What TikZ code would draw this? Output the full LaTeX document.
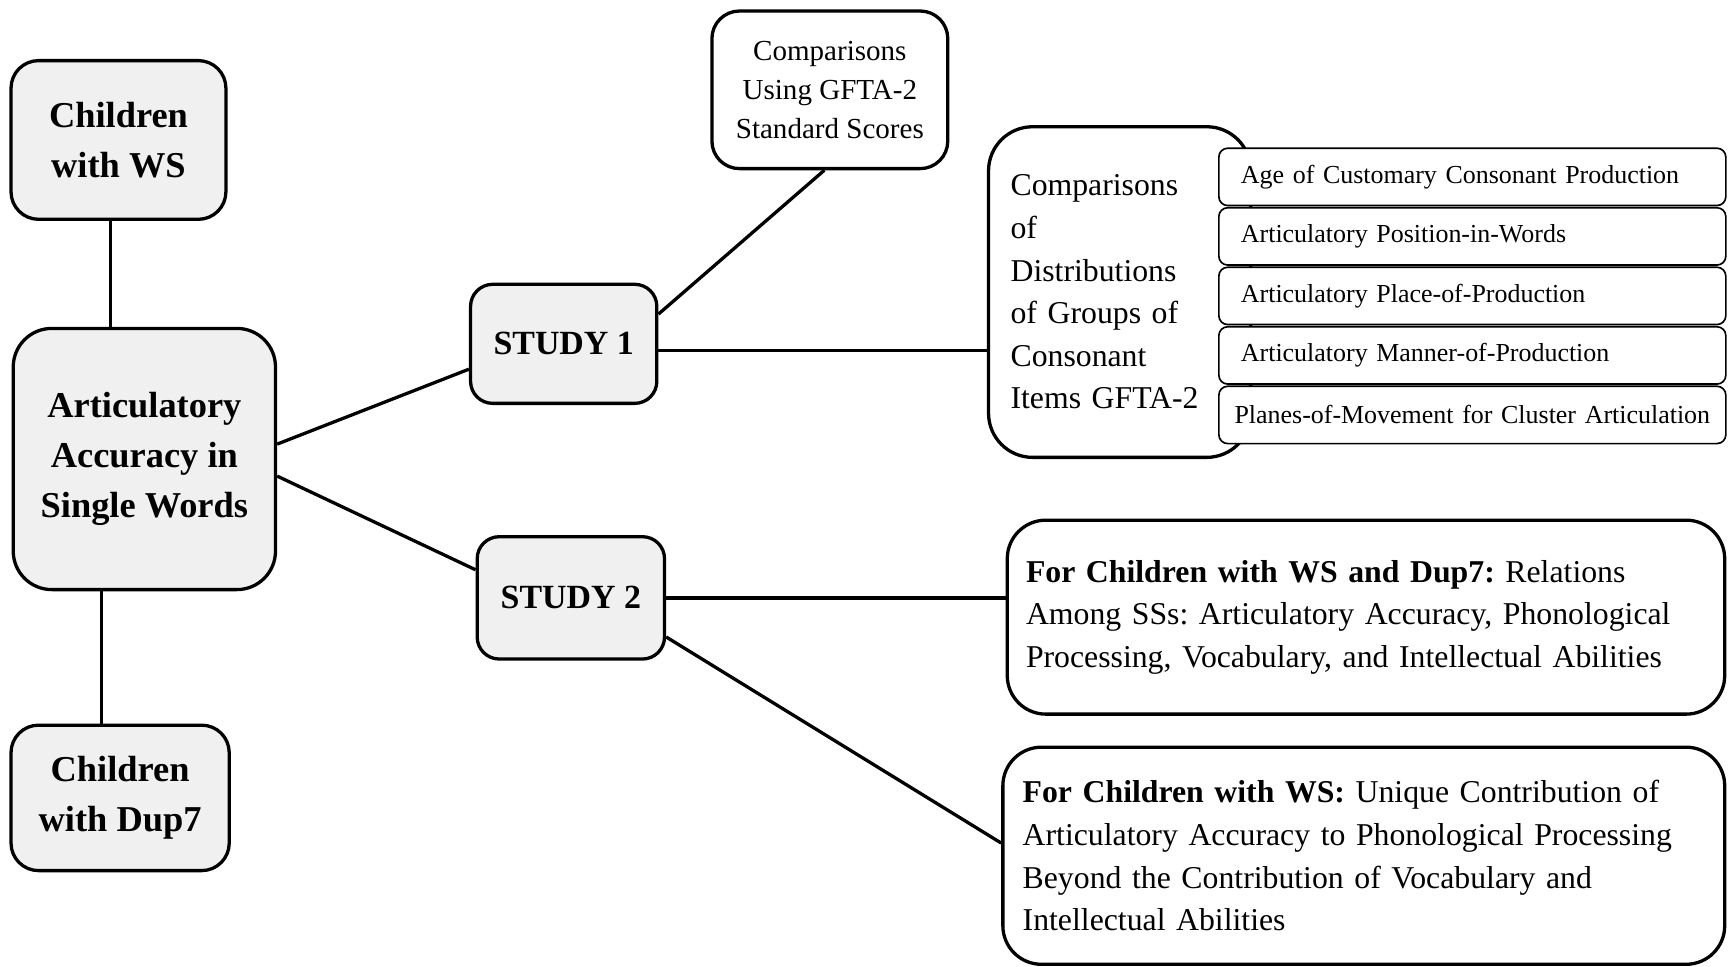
\documentclass[tikz,border=0pt]{standalone}
\usepackage{fontspec}
\setmainfont{Liberation Serif}
\definecolor{boxgray}{HTML}{F0F0F0}
\frenchspacing

\begin{document}
\begin{tikzpicture}[x=0.2mm, y=-0.2mm, line width=1.7pt, node distance=10.8mm]
        \tikzstyle{groupbox} = [rectangle, draw=black, fill=boxgray, align=center,
                               font=\fontsize{18.8}{26}\selectfont\bfseries]
        \tikzstyle{studybox} = [groupbox, rounded corners=4mm, font=\fontsize{17.5}{22}\selectfont\bfseries]
        \tikzstyle{resultbox} = [rectangle, draw=black, fill=white, align=left,
                                font=\fontsize{16.4}{22}\selectfont]
        \tikzstyle{itembox} = [rectangle, draw=black, fill=white, line width=0.85pt, rounded corners=1.6mm,
                              minimum width=92mm, minimum height=10.4mm, text width=84mm, inner xsep=4mm,
                              align=left, font=\fontsize{13.4}{16}\selectfont]

        \useasboundingbox (0,0) rectangle (1568,877);

        % Noeuds de gauche
        \node[groupbox, rounded corners=5mm, minimum width=39mm, minimum height=28.8mm] (ws) at (107.5,127) {Children\\with WS};
        \node[groupbox, rounded corners=7mm, minimum width=47.6mm, minimum height=47.4mm] (accuracy) at (131,416.5) {Articulatory\\Accuracy in\\Single Words};
        \node[groupbox, rounded corners=5mm, minimum width=39.6mm, minimum height=26.4mm] (dup) at (109,724) {Children\\with Dup7};

        % Etudes
        \node[studybox, minimum width=33.8mm, minimum height=21.6mm] (study1) at (511.5,312) {STUDY 1};
        \node[studybox, minimum width=34mm, minimum height=22.2mm] (study2) at (518,542.5) {STUDY 2};

        % Etude 1
        \node[resultbox, align=center, rounded corners=5mm, minimum width=42.8mm, minimum height=28.6mm,
              font=\fontsize{15}{20}\selectfont] (scores) at (753,81.5) {Comparisons\\Using GFTA-2\\Standard Scores};
        \node[resultbox, rounded corners=8mm, minimum width=47.6mm, minimum height=60mm, text width=39.6mm,
              inner xsep=4mm] (distrib) at (1016,265) {Comparisons\\of\\Distributions\\of Groups of\\Consonant\\Items GFTA-2};
        \node[itembox] (age) at (1336,160.5) {Age of Customary Consonant Production};
        \node[itembox, below of = age] (position) {Articulatory Position-in-Words};
        \node[itembox, below of = position] (place) {Articulatory Place-of-Production};
        \node[itembox, below of = place] (manner) {Articulatory Manner-of-Production};
        \node[itembox, below of = manner, text width=90mm, inner xsep=1mm, align=center] (planes) {Planes-of-Movement for Cluster Articulation};

        % Etude 2
        \node[resultbox, rounded corners=7mm, minimum width=130.2mm, minimum height=35.2mm, text width=123.4mm,
              inner xsep=3.4mm] (relations) at (1239.5,560) {\textbf{For Children with WS and Dup7:} Relations\\Among SSs: Articulatory Accuracy, Phonological\\Processing, Vocabulary, and Intellectual Abilities};
        \node[resultbox, rounded corners=7mm, minimum width=131mm, minimum height=39.4mm, text width=123.8mm,
              inner xsep=3.6mm] (unique) at (1237.5,776.5) {\textbf{For Children with WS:} Unique Contribution of\\Articulatory Accuracy to Phonological Processing\\Beyond the Contribution of Vocabulary and\\Intellectual Abilities};

        % Liens
        \draw ([xshift=-1.5mm]ws.south) -- ([xshift=-1.5mm]ws.south |- accuracy.north);
        \draw ([xshift=-3.4mm]dup.north) -- ([xshift=-3.4mm]dup.north |- accuracy.south);
        \draw ([yshift=2.7mm]accuracy.east) -- ([yshift=-4.6mm]study1.west);
        \draw ([yshift=-3.1mm]accuracy.east) -- ([yshift=5.1mm]study2.west);
        \draw ([yshift=5.4mm]study1.east) -- ([xshift=-1mm]scores.south);
        \draw ([yshift=-1.2mm]study1.east) -- ([yshift=-1.2mm]study1.east -| distrib.west);
        \draw (study2.east) -- (study2.east -| relations.west);
        \draw ([yshift=-7.1mm]study2.east) -- ([yshift=2.3mm]unique.west);
    \end{tikzpicture}
\end{document}
